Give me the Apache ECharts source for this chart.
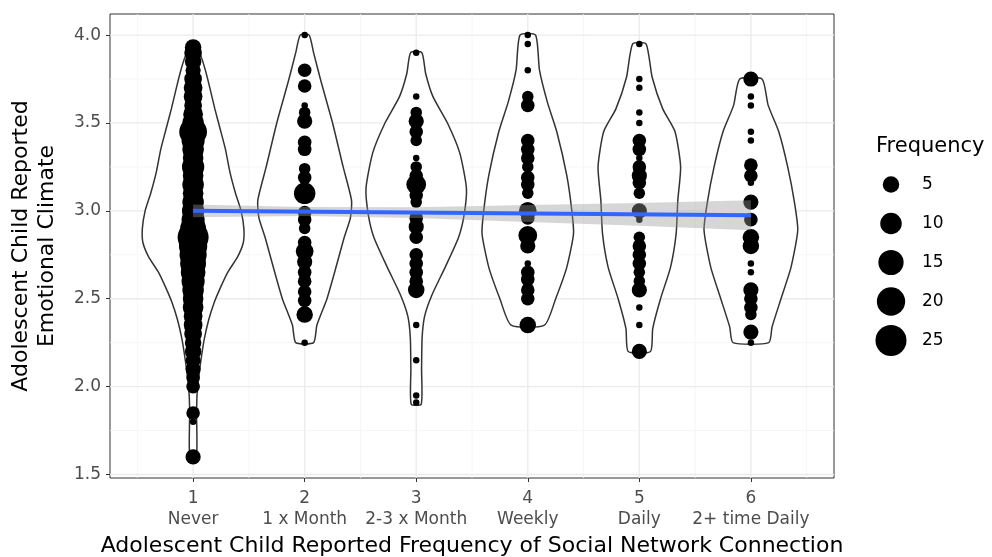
<!DOCTYPE html>
<html>
<head>
<meta charset="utf-8">
<script src="https://cdn.jsdelivr.net/npm/echarts@6/dist/echarts.min.js"></script>
<style>html,body{margin:0;padding:0;background:#fff}#c{width:992px;height:557px}</style>
</head>
<body>
<div id="c"></div>
<script>
// ---------------- data ----------------
const categories = [1, 2, 3, 4, 5, 6];
const categoryNames = ['Never', '1 x Month', '2-3 x Month', 'Weekly', 'Daily', '2+ time Daily'];
const yTicks = [1.5, 2.0, 2.5, 3.0, 3.5, 4.0];
const xMinorBreaks = [0.5, 1.5, 2.5, 3.5, 4.5, 5.5, 6.5];
const yMinorBreaks = [1.75, 2.25, 2.75, 3.25, 3.75];
const legendValues = [5, 10, 15, 20, 25];

// points: value and frequency per group
const g1Values = [3.93,3.90,3.85,3.80,3.75,3.70,3.65,3.60,3.55,3.50,3.45,3.40,3.35,3.30,3.25,3.20,3.15,3.10,3.05,3.00,2.95,2.90,2.85,2.80,2.75,2.70,2.65,2.60,2.55,2.50,2.45,2.40,2.35,2.30,2.25,2.20,2.15,2.10,2.05,2.00,1.85,1.80,1.60];
const g1Counts = [5,6,5,4,6,7,7,6,8,10,19,12,10,9,11,9,10,9,10,11,12,16,25,20,18,16,14,12,10,9,9,7,7,6,5,5,4,4,3,3,3,1,4];
const g2Values = [4.00,3.80,3.71,3.60,3.56,3.51,3.39,3.35,3.24,3.19,3.10,2.99,2.95,2.90,2.82,2.77,2.71,2.65,2.60,2.54,2.49,2.41,2.25];
const g2Counts = [1,3,3,1,2,4,3,3,2,3,10,3,3,2,3,6,4,3,3,3,3,5,1];
const g3Values = [3.90,3.65,3.56,3.51,3.45,3.40,3.30,3.25,3.20,3.15,3.09,3.05,2.96,2.91,2.85,2.75,2.70,2.65,2.60,2.55,2.35,2.15,1.95,1.91];
const g3Counts = [1,1,2,4,3,2,1,2,3,8,3,2,3,4,3,3,3,3,3,5,1,1,1,1];
const g4Values = [4.00,3.95,3.80,3.65,3.60,3.40,3.35,3.30,3.25,3.19,3.15,3.10,3.00,2.96,2.86,2.80,2.70,2.65,2.61,2.55,2.50,2.35];
const g4Counts = [1,1,1,2,3,3,3,3,2,3,3,2,6,3,7,4,1,3,3,3,3,5];
const g5Values = [3.95,3.75,3.70,3.56,3.50,3.40,3.35,3.30,3.25,3.20,3.16,3.10,3.00,2.95,2.85,2.80,2.75,2.70,2.65,2.60,2.55,2.45,2.35,2.20];
const g5Counts = [1,1,1,1,1,3,3,1,3,4,3,2,4,1,2,3,3,3,2,2,4,1,1,4];
const g6Values = [3.75,3.65,3.60,3.45,3.40,3.26,3.20,3.16,3.05,2.95,2.85,2.80,2.70,2.65,2.55,2.50,2.45,2.41,2.31,2.25];
const g6Counts = [4,1,1,1,1,3,3,1,4,3,5,5,1,1,4,3,3,2,4,1];

// violin density half-widths (x units) at given y values
const v1Y = [3.93,3.88,3.80,3.70,3.58,3.46,3.35,3.22,3.10,3.00,2.90,2.82,2.74,2.65,2.57,2.48,2.38,2.27,2.15,2.05,1.96,1.85,1.60];
const v1W = [0.02,0.07,0.11,0.15,0.195,0.245,0.29,0.33,0.38,0.43,0.455,0.45,0.40,0.31,0.25,0.19,0.14,0.10,0.07,0.05,0.036,0.031,0.03];
const v2Y = [4.00,3.90,3.74,3.50,3.25,3.06,2.96,2.85,2.70,2.50,2.35,2.25];
const v2W = [0.04,0.08,0.145,0.25,0.345,0.42,0.41,0.355,0.29,0.20,0.11,0.08];
const v3Y = [3.90,3.78,3.65,3.50,3.33,3.13,2.98,2.85,2.68,2.52,2.40,2.28,2.10,1.90];
const v3W = [0.05,0.085,0.15,0.28,0.39,0.45,0.43,0.38,0.26,0.14,0.075,0.053,0.048,0.045];
const v4Y = [4.00,3.80,3.62,3.45,3.20,3.00,2.87,2.68,2.50,2.35];
const v4W = [0.07,0.105,0.175,0.26,0.35,0.395,0.41,0.35,0.25,0.15];
const v5Y = [3.95,3.76,3.58,3.45,3.25,3.06,2.87,2.68,2.50,2.33,2.20];
const v5W = [0.06,0.115,0.21,0.32,0.37,0.345,0.33,0.28,0.19,0.12,0.10];
const v6Y = [3.75,3.60,3.45,3.25,3.05,2.89,2.68,2.50,2.34,2.25];
const v6W = [0.10,0.155,0.25,0.33,0.39,0.42,0.36,0.27,0.19,0.16];

// linear fit with confidence band
const fitX = [1, 6];
const fitY = [3.0, 2.975];
const bandX = [1, 2, 3, 4, 5, 6];
const bandLo = [2.964, 2.970, 2.960, 2.937, 2.915, 2.890];
const bandHi = [3.036, 3.022, 3.020, 3.033, 3.045, 3.060];

// ---------------- build ----------------
const groupValues = [g1Values, g2Values, g3Values, g4Values, g5Values, g6Values];
const groupCounts = [g1Counts, g2Counts, g3Counts, g4Counts, g5Counts, g6Counts];
const violinY = [v1Y, v2Y, v3Y, v4Y, v5Y, v6Y];
const violinW = [v1W, v2W, v3W, v4W, v5W, v6W];
const countMax = 27;
function sizeOf(c) { return 1.4 + 5.1 * (1 + 5 * Math.sqrt(Math.max(0, c - 1) / (countMax - 1))); }

const pointData = [];
groupValues.forEach((vals, gi) => vals.forEach((v, i) => pointData.push([categories[gi], v, groupCounts[gi][i]])));

const gridData = [];
categories.forEach(v => gridData.push(['x', v, 1]));
xMinorBreaks.forEach(v => gridData.push(['x', v, 0]));
yTicks.forEach(v => gridData.push(['y', v, 1]));
yMinorBreaks.forEach(v => gridData.push(['y', v, 0]));

const FONT = 'DejaVu Sans, Liberation Sans, Arial, sans-serif';
const xMin = 0.255, xMax = 6.745, yMin = 1.48, yMax = 4.12;

const chart = echarts.init(document.getElementById('c'), null, {renderer: 'canvas'});
chart.setOption({
  animation: false,
  backgroundColor: '#ffffff',
  textStyle: {fontFamily: FONT},
  title: {
    text: 'Frequency', left: 871, top: 131,
    textStyle: {fontSize: 21, fontWeight: 'normal', color: '#000', fontFamily: FONT}
  },
  grid: [
    {left: 110, right: 158, top: 14, bottom: 79, show: true, borderColor: '#333333', borderWidth: 1, backgroundColor: 'transparent', containLabel: false, outerBoundsMode: 'none'},
    {left: 870, top: 165, width: 42, height: 195, show: false, outerBoundsMode: 'none'}
  ],
  xAxis: [{
    type: 'value', min: xMin, max: xMax, gridIndex: 0,
    splitLine: {show: false}, axisLine: {show: false},
    axisTick: {show: true, customValues: categories, length: 4, lineStyle: {color: '#333333', width: 1}},
    axisLabel: {
      customValues: categories, margin: 10, color: '#4d4d4d', fontSize: 17, lineHeight: 21, fontFamily: FONT,
      formatter: v => { const i = categories.indexOf(Math.round(v)); return categories[i] + '\n' + categoryNames[i]; }
    },
    name: 'Adolescent Child Reported Frequency of Social Network Connection',
    nameLocation: 'middle', nameGap: 53,
    nameTextStyle: {fontSize: 22, color: '#000', fontFamily: FONT}
  }, {
    type: 'value', gridIndex: 1, min: 0, max: 1, show: false
  }],
  yAxis: [{
    type: 'value', min: yMin, max: yMax, gridIndex: 0,
    splitLine: {show: false}, axisLine: {show: false},
    axisTick: {show: true, customValues: yTicks, length: 4, lineStyle: {color: '#333333', width: 1}},
    axisLabel: {customValues: yTicks, margin: 9, color: '#4d4d4d', fontSize: 17, fontFamily: FONT, formatter: v => v.toFixed(1)},
    name: 'Adolescent Child Reported\nEmotional Climate',
    nameLocation: 'middle', nameGap: 50, nameRotate: 90,
    nameTextStyle: {fontSize: 22, lineHeight: 26, color: '#000', fontFamily: FONT}
  }, {
    type: 'category', gridIndex: 1, data: legendValues.map(String), inverse: true, position: 'right',
    axisLine: {show: false}, axisTick: {show: false}, splitLine: {show: false},
    axisLabel: {margin: 10, fontSize: 17, color: '#000', fontFamily: FONT}
  }],
  series: [
    {
      type: 'custom', xAxisIndex: 0, yAxisIndex: 0, z: 0, silent: true, clip: true,
      data: gridData,
      renderItem: (params, api) => {
        const dir = api.value(0) === 'x' ? 'x' : 'y';
        const v = api.value(1), major = api.value(2) === 1;
        let p1, p2;
        if (dir === 'x') { p1 = api.coord([v, yMin]); p2 = api.coord([v, yMax]); }
        else { p1 = api.coord([xMin, v]); p2 = api.coord([xMax, v]); }
        return {type: 'line', shape: {x1: p1[0], y1: p1[1], x2: p2[0], y2: p2[1]},
          style: {stroke: major ? '#ebebeb' : '#f4f4f4', lineWidth: major ? 1.3 : 0.8}};
      },
      encode: {x: 1, y: 1}
    },
    {
      type: 'custom', xAxisIndex: 0, yAxisIndex: 0, z: 1, silent: true,
      data: categories.map((c, i) => [c, i]),
      renderItem: (params, api) => {
        const cx = api.value(0), gi = api.value(1);
        const ys = violinY[gi], ws = violinW[gi];
        const pts = [];
        for (let i = 0; i < ys.length; i++) pts.push(api.coord([cx - ws[i], ys[i]]));
        for (let i = ys.length - 1; i >= 0; i--) pts.push(api.coord([cx + ws[i], ys[i]]));
        return {type: 'polygon', shape: {points: pts, smooth: 0.2},
          style: {fill: '#ffffff', stroke: '#333333', lineWidth: 1.5}};
      },
      encode: {x: 0}
    },
    {
      type: 'scatter', xAxisIndex: 0, yAxisIndex: 0, z: 2, silent: true,
      data: pointData,
      symbol: 'circle',
      symbolSize: d => sizeOf(d[2]),
      itemStyle: {color: '#000000', opacity: 1}
    },
    {
      type: 'custom', xAxisIndex: 0, yAxisIndex: 0, z: 3, silent: true,
      data: [[0]],
      renderItem: (params, api) => {
        const pts = [];
        for (let i = 0; i < bandX.length; i++) pts.push(api.coord([bandX[i], bandHi[i]]));
        for (let i = bandX.length - 1; i >= 0; i--) pts.push(api.coord([bandX[i], bandLo[i]]));
        return {type: 'polygon', shape: {points: pts}, style: {fill: 'rgba(153,153,153,0.4)'}};
      },
      encode: {x: 0}
    },
    {
      type: 'line', xAxisIndex: 0, yAxisIndex: 0, z: 4, silent: true,
      data: fitX.map((x, i) => [x, fitY[i]]),
      symbol: 'none', lineStyle: {color: '#3366FF', width: 4}
    },
    {
      type: 'scatter', xAxisIndex: 1, yAxisIndex: 1, silent: true,
      data: legendValues.map(v => [0.5, String(v), v]),
      symbol: 'circle', symbolSize: d => sizeOf(d[2]),
      itemStyle: {color: '#000000', opacity: 1}
    }
  ]
});
</script>
</body>
</html>
